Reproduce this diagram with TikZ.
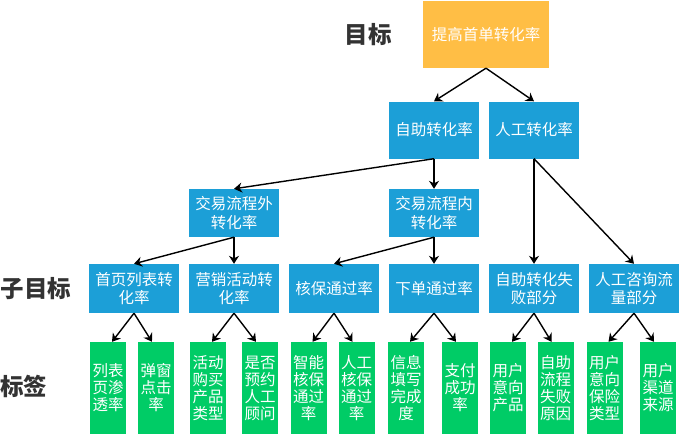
\documentclass[tikz,border=0pt]{standalone}
\usepackage{fontspec}
\usetikzlibrary{arrows.meta,positioning}
\newfontfamily\cjk{Noto Sans CJK SC}
\definecolor{Gc}{HTML}{FFBE45}
\definecolor{Bc}{HTML}{1C9FD7}
\definecolor{Tc}{HTML}{00CC66}
\definecolor{Kc}{HTML}{333333}
\tikzset{
  goalbox/.style={rectangle, fill=Gc, text=white, inner sep=0pt, minimum width=126pt, minimum height=67pt, font=\cjk\fontsize{15.5}{18}\selectfont},
  subbox/.style={rectangle, fill=Bc, text=white, inner sep=0pt, minimum width=90pt, align=center, font=\cjk\fontsize{15.5}{18.5}\selectfont},
  tagbox/.style={rectangle, fill=Tc, text=white, inner sep=0pt, minimum width=36pt, minimum height=92pt, align=center, font=\cjk\fontsize{15.5}{17}\selectfont},
  lvltext/.style={text=Kc, inner sep=0pt, font=\cjk\bfseries\fontsize{23.5}{26}\selectfont},
  link/.style={-{Stealth[length=8pt, width=10pt]}, line width=1.4pt},
}

\begin{document}
\begin{tikzpicture}[x=1pt, y=-1pt]
  \useasboundingbox (0,0) rectangle (679,434);
  % levels
  \node[lvltext] (lgoal) at (368,35) {目标};
  \node[lvltext] (lsub) at (36,289) {子目标};
  \node[lvltext] (ltag) at (24,386) {标签};
  % goal and sub goals
  \node[goalbox] (top) at (486,34.5) {提高首单转化率};
  \node[subbox, minimum height=57pt] (self) at (434,130) {自助转化率};
  \node[subbox, minimum height=57pt] (manual) at (534,130) {人工转化率};
  \node[subbox, minimum height=48pt] (outer) at (234,213) {交易流程外\\转化率};
  \node[subbox, minimum height=48pt] (inner) at (434,213) {交易流程内\\转化率};
  \node[subbox, minimum height=49pt] (list) at (134,288.5) {首页列表转\\化率};
  \node[subbox, minimum height=49pt] (promo) at (234,288.5) {营销活动转\\化率};
  \node[subbox, minimum height=49pt] (check) at (334,288.5) {核保通过率};
  \node[subbox, minimum height=49pt] (order) at (434,288.5) {下单通过率};
  \node[subbox, minimum height=49pt] (fail) at (534,288.5) {自助转化失\\败部分};
  \node[subbox, minimum height=49pt] (consult) at (634,288.5) {人工咨询流\\量部分};
  % tags
  \node[tagbox] (t1) at (108,388) {列表\\页渗\\透率};
  \node[tagbox] (t2) at (156,388) {弹窗\\点击\\率};
  \node[tagbox] (t3) at (208,388) {活动\\购买\\产品\\类型};
  \node[tagbox] (t4) at (260,388) {是否\\预约\\人工\\顾问};
  \node[tagbox] (t5) at (308.5,388) {智能\\核保\\通过\\率};
  \node[tagbox] (t6) at (356.5,388) {人工\\核保\\通过\\率};
  \node[tagbox] (t7) at (406,388) {信息\\填写\\完成\\度};
  \node[tagbox] (t8) at (460,388) {支付\\成功\\率};
  \node[tagbox] (t9) at (508,388) {用户\\意向\\产品};
  \node[tagbox] (t10) at (555.5,388) {自助\\流程\\失败\\原因};
  \node[tagbox] (t11) at (604.5,388) {用户\\意向\\保险\\类型};
  \node[tagbox] (t12) at (658,388) {用户\\渠道\\来源};
  % links
  \draw[link] (top.south) -- (self.north);
  \draw[link] (top.south) -- (manual.north);
  \draw[link] (self.south) -- (outer.north);
  \draw[link] (self.south) -- (inner.north);
  \draw[link] (manual.south) -- (fail.north);
  \draw[link] (manual.south) -- (consult.north);
  \draw[link] (outer.south) -- (list.north);
  \draw[link] (outer.south) -- (promo.north);
  \draw[link] (inner.south) -- (check.north);
  \draw[link] (inner.south) -- (order.north);
  \foreach \p/\a/\b in {list/t1/t2, promo/t3/t4, check/t5/t6, order/t7/t8, fail/t9/t10, consult/t11/t12}{
    \draw[link] (\p.south) -- ([xshift=4pt]\a.north);
    \draw[link] (\p.south) -- ([xshift=-4pt]\b.north);
  }
\end{tikzpicture}
\end{document}
